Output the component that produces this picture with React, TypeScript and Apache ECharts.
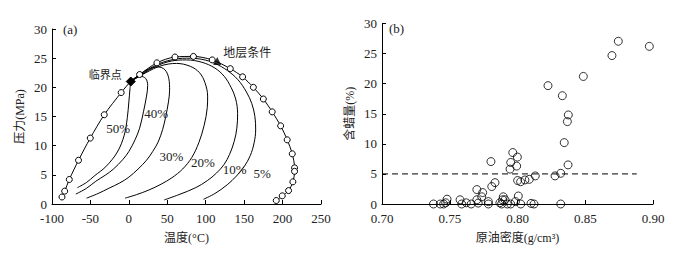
import React, { useEffect, useRef } from 'react';
import * as echarts from 'echarts';

// ---- Panel (a): phase envelope ----
const bubbleT = [-87, -83.5, -77.5, -65.5, -50.2, -32, -10];
const bubbleP = [1.2, 2.2, 4.2, 7.5, 11.3, 15.3, 19.1];
const criticalPoint = [2.5, 21];
const dewT = [14, 36.5, 60, 84, 108.5, 132, 148, 162, 175, 186.5, 197.5, 206, 212.6, 215.6, 215.6, 213.4, 207.8, 199.6, 191.8];
const dewP = [22.2, 24.2, 25.2, 25.3, 24.7, 23.2, 21.8, 20, 18, 15.8, 13.4, 11, 8.6, 6.2, 5.6, 3.8, 2.3, 1.4, 0.6];
const reservoirPoint = [115, 24.5];

const q50 = [[-67, 2.8], [-55, 3.7], [-45, 4.8], [-30, 6.4], [-15, 8.9], [-6, 11.8], [-2, 14.8], [0, 17.5], [1.5, 19.8], [2.5, 21]];
const q40 = [[-69, 1.7], [-55, 2.7], [-43, 3.9], [-30, 5.0], [-20, 6.0], [-8, 7.6], [0, 9], [8, 11], [14, 13], [19, 15.8], [23, 18.5], [24.5, 20.3], [22, 21.5], [15, 21.9], [8, 21.6], [2.5, 21]];
const q30 = [[-55, 1.0], [-40, 1.8], [-26, 2.7], [-12, 3.6], [0, 4.6], [12, 6], [23, 7.5], [31, 9], [38, 10.6], [44, 12.8], [48, 15], [51.5, 17.5], [53, 19.5], [52, 21.5], [47, 23], [38, 23.5], [27, 23.2], [15, 22.3], [2.5, 21]];
const q20 = [[-5, 1.0], [10, 1.6], [26, 2.4], [42, 3.4], [56, 4.5], [70, 6], [82, 8], [91, 10.5], [98, 13.5], [102, 16.5], [102.5, 18.5], [99, 20.8], [92, 22.5], [80, 23.6], [62, 24.1], [42, 23.7], [22, 22.5], [2.5, 21]];
const q10 = [[46, 0.7], [65, 1.6], [87, 2.8], [102, 4], [114, 5.3], [124, 6.8], [131, 8.5], [137, 10.7], [140.5, 13], [141.5, 15.5], [139, 18], [133, 20], [124, 21.9], [112, 23.3], [95, 24.3], [75, 24.7], [55, 24.5], [35, 23.6], [17, 22.2], [2.5, 21]];
const q05 = [[97, 0.8], [112, 1.8], [128, 3.3], [140, 4.8], [150, 6.4], [158, 8.3], [163, 10.5], [165, 12.7], [164, 15], [160, 17.2], [153, 19.2], [142, 21.3], [128, 22.9], [112, 24.1], [95, 24.8], [75, 25.0], [55, 24.7], [35, 23.8], [17, 22.3], [2.5, 21]];
const qualityCurves = [q50, q40, q30, q20, q10, q05];
const qualityLabels: [number, number, string][] = [
  [-14, 13.0, '50%'],
  [35.6, 15.6, '40%'],
  [55.3, 8.2, '30%'],
  [96.5, 7.1, '20%'],
  [137.6, 5.9, '10%'],
  [173.5, 5.2, '5%'],
];
const tempTicks = [-100, -50, 0, 50, 100, 150, 200, 250];
const pressureTicks = [0, 5, 10, 15, 20, 25, 30];

// ---- Panel (b): wax content vs crude density ----
const densities = [
  0.738, 0.743, 0.7455, 0.747, 0.748,
  0.7576, 0.7588, 0.7622, 0.7658, 0.770, 0.770, 0.771, 0.7736, 0.7743, 0.7785, 0.7785, 0.781, 0.7804, 0.7834,
  0.787, 0.7883, 0.789, 0.7895, 0.7908, 0.7925, 0.795, 0.7985, 0.8006, 0.8024,
  0.7945, 0.795, 0.7965, 0.7999, 0.7994, 0.8001, 0.8023, 0.8055, 0.8087, 0.8131,
  0.810, 0.8122, 0.8319,
  0.8277, 0.8319, 0.8373, 0.8345, 0.8368, 0.8375, 0.8331, 0.8225, 0.8486, 0.8697, 0.8744, 0.8973,
];
const waxContents = [
  0, 0, 0, 0.2, 0.8,
  0.7, 0, 0.2, 0, 2.4, 0.7, 0.15, 1.2, 1.9, 0.4, 0, 2.9, 7.05, 3.55,
  0.2, 0, 0.7, 1.2, 0.7, 0, 0, 0.4, 1.33, 0,
  5.8, 6.9, 8.55, 7.8, 6.3, 3.9, 3.7, 4.0, 4.1, 4.67,
  0.1, 0, 0,
  4.67, 5.1, 6.5, 10.2, 13.7, 14.8, 18, 19.67, 21.2, 24.67, 27.05, 26.2,
];
const thresholdValue = 5;
const thresholdRange = [0.70, 0.888];
const densityTicks = [0.70, 0.75, 0.80, 0.85, 0.90];
const waxTicks = [0, 5, 10, 15, 20, 25, 30];

const SERIF = 'Liberation Serif';
const SERIF_CJK = 'Liberation Serif, Noto Sans CJK SC';
const TXT = '#222';

function axisCommon() {
  return {
    axisLine: { show: true, onZero: false, lineStyle: { color: '#000', width: 1 } },
    axisTick: { show: true, inside: true, length: 4, lineStyle: { color: '#000' } },
    splitLine: { show: false },
    axisLabel: { show: false },
  };
}

export default function App() {
  const ref = useRef<HTMLDivElement>(null);
  useEffect(() => {
    if (!ref.current) return;
    const chart = echarts.init(ref.current, undefined, { renderer: 'svg' });
    const envelopeData: any[] = [
      ...bubbleT.map((t, i) => [t, bubbleP[i]]),
      { value: criticalPoint, symbol: 'diamond', symbolSize: 9, itemStyle: { color: '#000', borderColor: '#000' } },
      ...dewT.map((t, i) => [t, dewP[i]]),
    ];
    const option: any = {
      animation: false,
      grid: [
        { left: 52, right: 379, top: 29, bottom: 50 },
        { left: 382, right: 47, top: 23.5, bottom: 50 },
      ],
      xAxis: [
        { ...axisCommon(), type: 'value', gridIndex: 0, min: -100, max: 250, interval: 50 },
        { ...axisCommon(), type: 'value', gridIndex: 1, min: 0.7, max: 0.9, interval: 0.05 },
      ],
      yAxis: [
        { ...axisCommon(), type: 'value', gridIndex: 0, min: 0, max: 30, interval: 5 },
        { ...axisCommon(), type: 'value', gridIndex: 1, min: 0, max: 30, interval: 5 },
      ],
      series: [
        ...qualityCurves.map((pts) => ({
          type: 'line', xAxisIndex: 0, yAxisIndex: 0, data: pts, smooth: 0.35,
          showSymbol: false, symbol: 'none', silent: true, z: 2,
          lineStyle: { color: '#000', width: 1 },
        })),
        {
          type: 'line', xAxisIndex: 0, yAxisIndex: 0, data: envelopeData, smooth: 0.3,
          symbol: 'circle', symbolSize: 6, showSymbol: true, showAllSymbol: true, silent: true, z: 3,
          itemStyle: { color: '#fff', borderColor: '#000', borderWidth: 1 },
          lineStyle: { color: '#000', width: 1 },
        },
        {
          type: 'scatter', xAxisIndex: 0, yAxisIndex: 0, data: [reservoirPoint], symbol: 'triangle', symbolSize: 8,
          silent: true, z: 4, itemStyle: { color: '#000' },
        },
        {
          type: 'line', xAxisIndex: 1, yAxisIndex: 1, silent: true, symbol: 'none', showSymbol: false,
          data: thresholdRange.map((d) => [d, thresholdValue]),
          lineStyle: { color: '#000', width: 1, type: [6, 4] },
        },
        {
          type: 'scatter', xAxisIndex: 1, yAxisIndex: 1, silent: true, symbol: 'circle', symbolSize: 8,
          data: densities.map((d, i) => [d, waxContents[i]]),
          itemStyle: { color: 'rgba(0,0,0,0)', borderColor: '#000', borderWidth: 1 },
        },
      ],
    };
    chart.setOption(option);

    const pxA = (pt: number[]) => chart.convertToPixel({ xAxisIndex: 0, yAxisIndex: 0 }, pt) as number[];
    const pxB = (pt: number[]) => chart.convertToPixel({ xAxisIndex: 1, yAxisIndex: 1 }, pt) as number[];
    const txt = (text: string, x: number, y: number, align: string, size: number, family: string, rotation = 0) => ({
      type: 'text', x, y, rotation, silent: true, z: 10,
      style: { text, fontFamily: family, fontSize: size, fill: TXT, align, verticalAlign: 'middle' },
    });
    const cp = pxA(criticalPoint);
    const rp = pxA(reservoirPoint);
    const aTL = pxA([-100, 30]);
    const aBL = pxA([-100, 0]);
    const aBR = pxA([250, 0]);
    const bTL = pxB([0.7, 30]);
    const bBL = pxB([0.7, 0]);
    const bBR = pxB([0.9, 0]);
    const graphics: any[] = [
      txt('(a)', aTL[0] + 11, aTL[1], 'left', 13, SERIF),
      txt('(b)', bTL[0] + 7, bTL[1] + 4.5, 'left', 13, SERIF),
      txt('临界点', cp[0] - 9, cp[1] - 7, 'right', 11, SERIF_CJK),
      txt('地层条件', rp[0] + 6, rp[1] - 8, 'left', 12, SERIF_CJK),
      ...qualityLabels.map(([t, p, s]) => {
        const q = pxA([t, p]);
        return txt(s, q[0], q[1], 'center', 13, SERIF);
      }),
      ...tempTicks.map((v) => txt(String(v), pxA([v, 0])[0], aBL[1] + 14, 'center', 13, SERIF)),
      ...pressureTicks.map((v) => txt(String(v), aBL[0] - 5, pxA([-100, v])[1], 'right', 13, SERIF)),
      ...densityTicks.map((v) => txt(v.toFixed(2), pxB([v, 0])[0], bBL[1] + 14, 'center', 13, SERIF)),
      ...waxTicks.map((v) => txt(String(v), bBL[0] - 5, pxB([0.7, v])[1], 'right', 13, SERIF)),
      txt('温度(°C)', (aBL[0] + aBR[0]) / 2, aBL[1] + 34, 'center', 12, SERIF_CJK),
      txt('原油密度(g/cm³)', (bBL[0] + bBR[0]) / 2, bBL[1] + 34, 'center', 12, SERIF_CJK),
      txt('压力(MPa)', aBL[0] - 32, (aTL[1] + aBL[1]) / 2, 'center', 12, SERIF_CJK, Math.PI / 2),
      txt('含蜡量(%)', bBL[0] - 32, (bTL[1] + bBL[1]) / 2, 'center', 12, SERIF_CJK, Math.PI / 2),
    ];
    chart.setOption({ graphic: graphics });
    return () => chart.dispose();
  }, []);
  return <div ref={ref} style={{ position: 'absolute', left: 0, top: 0, width: 700, height: 254 }} />;
}
